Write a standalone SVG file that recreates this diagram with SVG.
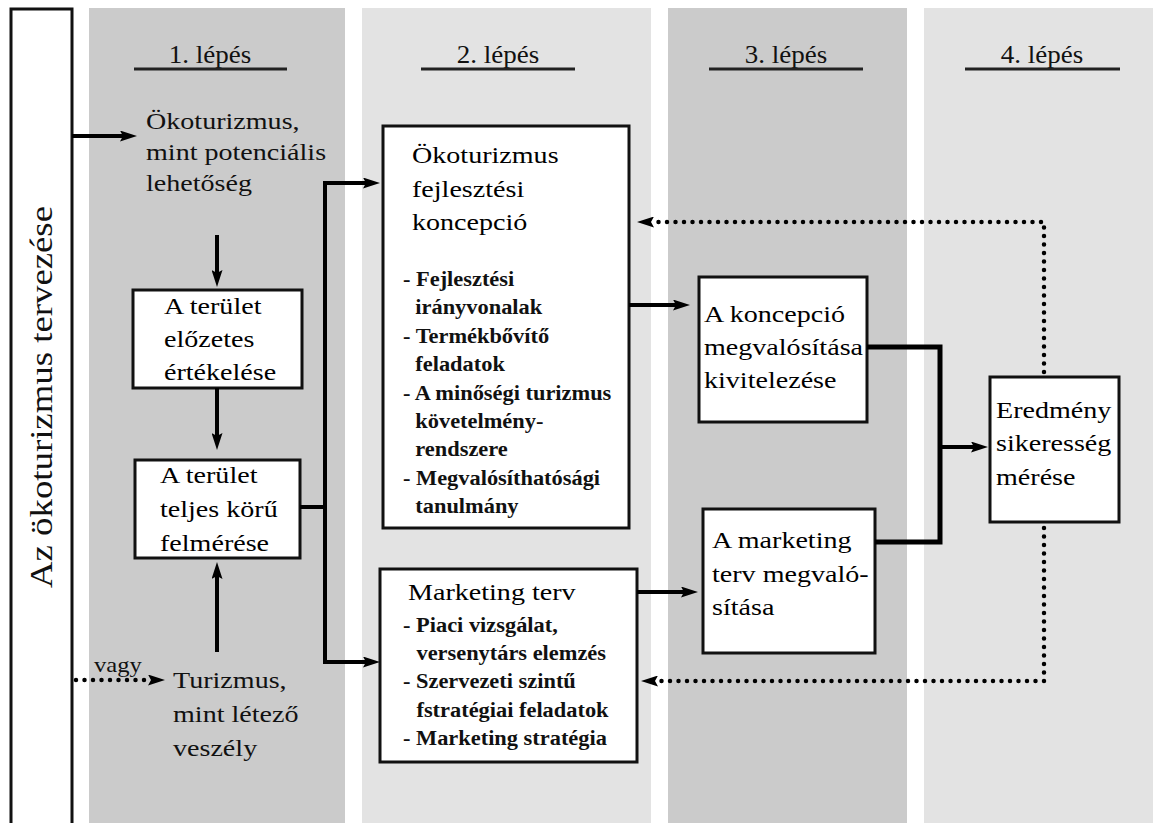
<svg xmlns="http://www.w3.org/2000/svg" width="1153" height="823" viewBox="0 0 1153 823">
<style>
.t{font-family:"Liberation Serif","Times New Roman",serif;font-size:24px;fill:#111}
.h{font-family:"Liberation Serif","Times New Roman",serif;font-size:25px;fill:#111}
.b{font-family:"Liberation Serif","Times New Roman",serif;font-size:20px;font-weight:bold;fill:#111}
.box{fill:#fff;stroke:#111;stroke-width:3}
.ul{stroke:#222;stroke-width:3}
.conn{fill:none;stroke:#000;stroke-width:4;stroke-linejoin:miter}
.dot{fill:none;stroke:#000;stroke-width:4.5;stroke-dasharray:0 8.5;stroke-linecap:round}
.dk{fill:#cbcbcb}
.lt{fill:#e3e3e3}
</style>
<defs>
<marker id="ah" viewBox="0 0 17 11" refX="3" refY="5.5" markerWidth="17" markerHeight="11" markerUnits="userSpaceOnUse" orient="auto"><path d="M0,0 L17,5.5 L0,11 L3,5.5 z" fill="#000"/></marker>
</defs>
<rect width="1153" height="823" fill="#fff"/>
<g id="columns">
<rect class="dk" x="89" y="8" width="256" height="815"/>
<rect class="lt" x="362" y="8" width="289" height="815"/>
<rect class="dk" x="668" y="8" width="239" height="815"/>
<rect class="lt" x="924" y="8" width="229" height="815"/>
</g>
<g id="headers">
<text class="h" text-anchor="middle" transform="translate(210,63) scale(1.08,1)">1. lépés</text>
<line class="ul" x1="134" y1="69" x2="287" y2="69"/>
<text class="h" text-anchor="middle" transform="translate(498,63) scale(1.08,1)">2. lépés</text>
<line class="ul" x1="421" y1="69" x2="575" y2="69"/>
<text class="h" text-anchor="middle" transform="translate(786,63) scale(1.08,1)">3. lépés</text>
<line class="ul" x1="709" y1="69" x2="863" y2="69"/>
<text class="h" text-anchor="middle" transform="translate(1042,63) scale(1.08,1)">4. lépés</text>
<line class="ul" x1="965" y1="69" x2="1120" y2="69"/>
</g>
<g id="node-tervezes">
<rect class="box" x="11" y="9" width="61" height="830"/>
<text class="t" style="font-size:32px" text-anchor="middle" transform="translate(52,397) rotate(-90) scale(1.15,1)">Az ökoturizmus tervezése</text>
</g>
<g id="node-potencialis">
<text class="t" transform="translate(146,129) scale(1.17,1)"><tspan x="0">Ökoturizmus,</tspan><tspan x="0" dy="31">mint potenciális</tspan><tspan x="0" dy="31">lehetőség</tspan></text>
</g>
<g id="node-elozetes">
<rect class="box" x="133" y="290" width="169" height="98"/>
<text class="t" style="fill:#000" transform="translate(164,314) scale(1.17,1)"><tspan x="0">A terület</tspan><tspan x="0" dy="33">előzetes</tspan><tspan x="0" dy="33">értékelése</tspan></text>
</g>
<g id="node-felmeres">
<rect class="box" x="135" y="460" width="165" height="98"/>
<text class="t" style="fill:#000" transform="translate(160,483) scale(1.17,1)"><tspan x="0">A terület</tspan><tspan x="0" dy="34">teljes körű</tspan><tspan x="0" dy="34">felmérése</tspan></text>
</g>
<g id="node-veszely">
<text class="t" transform="translate(173,688) scale(1.17,1)"><tspan x="0">Turizmus,</tspan><tspan x="0" dy="34">mint létező</tspan><tspan x="0" dy="34">veszély</tspan></text>
<text class="t" style="font-size:22px" transform="translate(94,672) scale(1.12,1)">vagy</text>
</g>
<g id="node-koncepcio">
<rect class="box" x="383" y="126" width="246" height="402"/>
<text class="t" style="fill:#000" transform="translate(412,163) scale(1.17,1)"><tspan x="0">Ökoturizmus</tspan><tspan x="0" dy="34">fejlesztési</tspan><tspan x="0" dy="33">koncepció</tspan></text>
<text class="b" transform="translate(403,286) scale(1.12,1)"><tspan x="0">- Fejlesztési</tspan><tspan x="11" dy="28">irányvonalak</tspan><tspan x="0" dy="29">- Termékbővítő</tspan><tspan x="11" dy="28">feladatok</tspan><tspan x="0" dy="29">- A minőségi turizmus</tspan><tspan x="11" dy="28">követelmény-</tspan><tspan x="11" dy="28">rendszere</tspan><tspan x="0" dy="29">- Megvalósíthatósági</tspan><tspan x="11" dy="28">tanulmány</tspan></text>
</g>
<g id="node-marketing-terv">
<rect class="box" x="380" y="569" width="257" height="193"/>
<text class="t" style="fill:#000" transform="translate(408,600) scale(1.17,1)">Marketing terv</text>
<text class="b" transform="translate(403,632) scale(1.12,1)"><tspan x="0">- Piaci vizsgálat,</tspan><tspan x="12" dy="28">versenytárs elemzés</tspan><tspan x="0" dy="28">- Szervezeti szintű</tspan><tspan x="12" dy="29">fstratégiai feladatok</tspan><tspan x="0" dy="28">- Marketing stratégia</tspan></text>
</g>
<g id="node-megvalositas">
<rect class="box" x="699" y="277" width="168" height="145"/>
<text class="t" style="fill:#000" transform="translate(704,322) scale(1.17,1)"><tspan x="0">A koncepció</tspan><tspan x="0" dy="33">megvalósítása</tspan><tspan x="0" dy="33">kivitelezése</tspan></text>
</g>
<g id="node-marketing-megvalositas">
<rect class="box" x="703" y="509" width="172" height="144"/>
<text class="t" style="fill:#000" transform="translate(712,548) scale(1.17,1)"><tspan x="0">A marketing</tspan><tspan x="0" dy="34">terv megvaló-</tspan><tspan x="0" dy="33">sítása</tspan></text>
</g>
<g id="node-eredmeny">
<rect class="box" x="990" y="377" width="129" height="145"/>
<text class="t" style="fill:#000" transform="translate(996,418) scale(1.17,1)"><tspan x="0">Eredmény</tspan><tspan x="0" dy="33">sikeresség</tspan><tspan x="0" dy="34">mérése</tspan></text>
</g>
<g id="connectors">
<path class="conn" d="M72,136 H123" marker-end="url(#ah)"/>
<path class="dot" d="M76,680 H151" marker-end="url(#ah)"/>
<path class="conn" d="M217,235 V273" marker-end="url(#ah)"/>
<path class="conn" d="M217,388 V436" marker-end="url(#ah)"/>
<path class="conn" d="M217,652 V576" marker-end="url(#ah)"/>
<path class="conn" d="M300,507 H327"/>
<path class="conn" d="M325,662 V183 H366" marker-end="url(#ah)"/>
<path class="conn" d="M325,420 V662 H366" marker-end="url(#ah)"/>
<path class="conn" d="M629,305 H676" marker-end="url(#ah)"/>
<path class="conn" d="M637,592 H684" marker-end="url(#ah)"/>
<path class="conn" style="stroke-width:5" d="M867,347 H940 V542 H875"/>
<path class="conn" d="M940,447 H974" marker-end="url(#ah)"/>
<path class="dot" d="M1044,372 V222 H651" marker-end="url(#ah)"/>
<path class="dot" d="M1044,528 V681 H655" marker-end="url(#ah)"/>
</g>
</svg>
